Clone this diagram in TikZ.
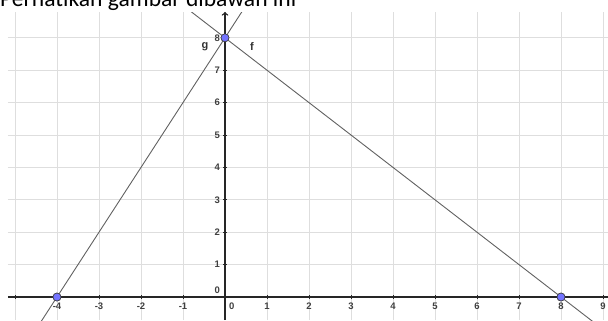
\documentclass[tikz,border=0pt]{standalone}
\usepackage{fontspec}
\setmainfont{Carlito}
\setsansfont{Liberation Sans}
\usetikzlibrary{arrows,positioning}
\tikzstyle{gridline} = [draw, color=black!13, line width=0.9pt]
\tikzstyle{axis} = [draw, color=black!85, line width=1.4pt]
\tikzstyle{tick} = [draw, color=black!85, line width=0.7pt]
\tikzstyle{graph} = [draw, color=black!62, line width=0.9pt, shorten <=-45pt, shorten >=-45pt]
\tikzstyle{point} = [circle, draw=black!75, fill=blue!55, inner sep=0pt, minimum size=8pt, line width=0.6pt]
\tikzstyle{ticklabel} = [inner sep=0pt, text=black!75, font=\sffamily\bfseries\fontsize{9.5}{9.5}\selectfont]
\tikzstyle{linelabel} = [inner sep=0pt, text=black!80, font=\sffamily\bfseries\fontsize{11}{11}\selectfont]
\newcommand{\gpoint}[3]{node (p#1) [point] at (#2,#3) {}}

\begin{document}
\begin{tikzpicture}[x=42pt, y=32.4pt]
\useasboundingbox (-5.357,-0.71) rectangle (9.119,9.167);
% Title, cut off at the top
\node[anchor=base west, inner sep=0pt, font=\fontsize{23.6}{24}\selectfont] (title) at (-5.357,8.951) {Perhatikan gambar dibawah ini};
% Grid
\foreach \x in {-5,...,9} \path [gridline] (\x,-0.71) -- (\x,8.796);
\foreach \y in {1,...,8} \path [gridline] (-5.167,\y) -- (9.119,\y);
% Points
\path \gpoint{1}{-4}{0};
\path \gpoint{2}{0}{8};
\path \gpoint{3}{8}{0};
% Lines f and g
\begin{scope}
\clip (-5.167,-0.71) rectangle (9.119,8.796);
\path [graph] (p1.center) -- (p2.center);
\path [graph] (p2.center) -- (p3.center);
\end{scope}
% Axes
\coordinate (xl) at (-5.167,0);
\coordinate (xr) at (9.119,0);
\coordinate (yb) at (0,-0.71);
\coordinate (yt) at (0,8.8);
\path [axis] (xl) -- (xr);
\path [axis, -to] (yb) -- (yt);
\foreach \x in {-5,...,9} \path [tick] (\x,0) ++(0,-2pt) -- ++(0,4pt);
\foreach \y in {1,...,8} \path [tick] (0,\y) ++(-2pt,0) -- ++(4pt,0);
% Tick labels
\foreach \x in {-4,-3,-2,-1,1,2,3,4,5,6,7,8,9}
  \node [ticklabel, anchor=north] (lx\x) at ([yshift=-6pt]\x,0) {\x};
\foreach \y in {1,...,8}
  \node [ticklabel, anchor=east] (ly\y) at ([xshift=-5pt]0,\y) {\y};
\node [ticklabel, anchor=north west] (lx0) at ([xshift=4pt,yshift=-6pt]0,0) {0};
\node [ticklabel, anchor=south east] (ly0) at ([xshift=-5pt,yshift=3pt]0,0) {0};
% Points on top
\path \gpoint{1}{-4}{0};
\path \gpoint{2}{0}{8};
\path \gpoint{3}{8}{0};
% Names of the lines
\node [linelabel] (lg) at (-0.476,7.716) {g};
\node [linelabel] (lf) at (0.643,7.716) {f};
\end{tikzpicture}
\end{document}
